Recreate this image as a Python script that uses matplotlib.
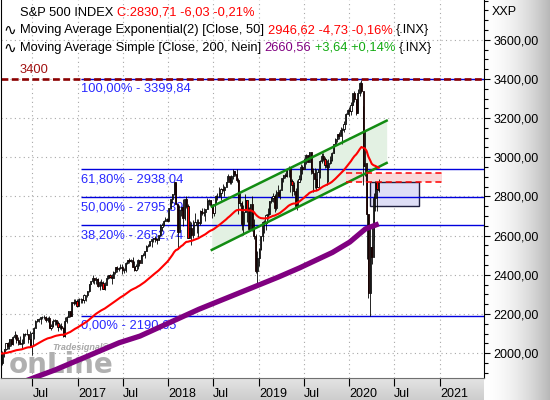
import numpy as np
import pandas as pd
import matplotlib
matplotlib.use('Agg')
import matplotlib.pyplot as plt
import matplotlib.colors as mcolors
import matplotlib.transforms as mtrans
from matplotlib.patches import Rectangle
from matplotlib.lines import Line2D
from matplotlib.ticker import MultipleLocator

# weekly S&P 500 bars (one bar per week, Feb 2016 - Apr 2020)
first_week = '2016-02-24'
first_open = 1917

close = [
    # 2016
    1948, 2000, 2022, 2050, 2036, 2073, 2048, 2081, 2092, 2065, 2057, 2047, 2052, 2099, 2099,
    2096, 2071, 2037, 2103, 2130, 2162, 2175, 2174, 2183, 2184, 2184, 2169, 2180, 2128, 2139,
    2165, 2168, 2154, 2133, 2141, 2126, 2085, 2164, 2182, 2213, 2192, 2260, 2258, 2264, 2239,
    # 2017
    2277, 2275, 2271, 2295, 2297, 2316, 2351, 2367, 2383, 2373, 2378, 2344, 2363, 2356, 2329,
    2349, 2384, 2399, 2391, 2382, 2416, 2439, 2432, 2433, 2438, 2423, 2425, 2459, 2473, 2472,
    2477, 2441, 2426, 2443, 2477, 2461, 2500, 2502, 2519, 2549, 2553, 2575, 2581, 2588, 2582,
    2579, 2602, 2642, 2652, 2676, 2683, 2674,
    # 2018
    2743, 2786, 2810, 2873, 2762, 2620, 2732, 2747, 2691, 2787, 2752, 2588, 2641, 2604, 2656,
    2670, 2670, 2663, 2728, 2713, 2721, 2735, 2779, 2780, 2755, 2718, 2760, 2801, 2802, 2819,
    2840, 2833, 2850, 2875, 2902, 2872, 2905, 2930, 2914, 2886, 2767, 2768, 2659, 2723, 2781,
    2736, 2633, 2760, 2633, 2600, 2417, 2486,
    # 2019
    2532, 2596, 2671, 2665, 2707, 2708, 2776, 2793, 2804, 2743, 2822, 2801, 2834, 2893, 2907,
    2905, 2940, 2946, 2881, 2860, 2826, 2752, 2873, 2887, 2950, 2942, 2990, 3014, 2977, 3026,
    2932, 2919, 2889, 2847, 2926, 2979, 3007, 2992, 2962, 2952, 2970, 2986, 3023, 3067, 3093,
    3120, 3110, 3141, 3146, 3169, 3221, 3240,
    # 2020
    3235, 3265, 3330, 3295, 3226, 3328, 3380, 3338, 2954, 2972, 2711, 2305, 2541, 2489, 2790,
    2875, 2837, 2831,
]

high = [
    1963, 2009, 2022, 2052, 2057, 2074, 2073, 2088, 2111, 2100, 2083, 2085, 2072, 2101, 2105,
    2121, 2096, 2113, 2109, 2132, 2169, 2176, 2177, 2183, 2188, 2194, 2188, 2185, 2188, 2151,
    2175, 2173, 2170, 2162, 2148, 2155, 2131, 2182, 2190, 2213, 2214, 2260, 2278, 2274, 2274,
    2282, 2279, 2277, 2301, 2298, 2319, 2351, 2368, 2401, 2385, 2390, 2386, 2370, 2378, 2366,
    2361, 2398, 2399, 2404, 2406, 2419, 2440, 2446, 2442, 2454, 2454, 2434, 2464, 2478, 2484,
    2480, 2491, 2468, 2455, 2480, 2475, 2500, 2509, 2519, 2553, 2558, 2575, 2583, 2588, 2597,
    2590, 2604, 2658, 2665, 2680, 2695, 2692,
    2743, 2788, 2810, 2873, 2871, 2763, 2754, 2748, 2789, 2787, 2802, 2762, 2675, 2672, 2680,
    2717, 2684, 2683, 2733, 2742, 2743, 2737, 2791, 2789, 2780, 2760, 2763, 2805, 2817, 2848,
    2842, 2863, 2853, 2876, 2917, 2900, 2908, 2941, 2931, 2940, 2895, 2817, 2779, 2757, 2815,
    2776, 2747, 2761, 2800, 2685, 2607, 2520,
    2538, 2598, 2675, 2682, 2709, 2739, 2776, 2796, 2817, 2812, 2831, 2860, 2836, 2893, 2911,
    2918, 2940, 2954, 2937, 2891, 2872, 2841, 2885, 2911, 2964, 2958, 2996, 3018, 3014, 3028,
    3029, 2944, 2943, 2939, 2940, 2986, 3021, 3022, 2999, 2984, 2993, 3008, 3027, 3067, 3098,
    3120, 3128, 3154, 3151, 3183, 3226, 3248,
    3258, 3283, 3330, 3338, 3286, 3348, 3385, 3394, 3260, 3137, 2883, 2711, 2637, 2641, 2819,
    2879, 2845, 2888,
]

low = [
    1891, 1937, 1980, 2014, 2022, 2022, 2034, 2040, 2074, 2052, 2039, 2046, 2026, 2047, 2085,
    2092, 2050, 2033, 1992, 2074, 2131, 2159, 2157, 2148, 2176, 2172, 2160, 2157, 2128, 2119,
    2133, 2145, 2143, 2115, 2124, 2119, 2084, 2084, 2156, 2182, 2187, 2192, 2248, 2252, 2234,
    2245, 2254, 2258, 2257, 2267, 2289, 2313, 2355, 2359, 2355, 2355, 2336, 2322, 2345, 2329,
    2322, 2374, 2380, 2382, 2354, 2383, 2406, 2416, 2419, 2428, 2406, 2408, 2414, 2456, 2460,
    2466, 2438, 2421, 2417, 2428, 2447, 2474, 2497, 2488, 2520, 2544, 2548, 2544, 2566, 2566,
    2557, 2579, 2600, 2625, 2651, 2676, 2674,
    2682, 2738, 2769, 2808, 2760, 2533, 2636, 2700, 2647, 2681, 2741, 2586, 2593, 2554, 2586,
    2660, 2613, 2595, 2655, 2707, 2701, 2677, 2737, 2755, 2748, 2692, 2699, 2770, 2782, 2795,
    2781, 2828, 2802, 2854, 2885, 2864, 2864, 2887, 2903, 2874, 2711, 2749, 2628, 2604, 2722,
    2671, 2631, 2650, 2622, 2583, 2409, 2347,
    2444, 2525, 2570, 2613, 2631, 2687, 2704, 2765, 2774, 2722, 2729, 2800, 2785, 2849, 2874,
    2892, 2899, 2901, 2825, 2801, 2805, 2751, 2729, 2875, 2883, 2913, 2952, 2966, 2975, 2978,
    2914, 2822, 2841, 2835, 2853, 2892, 2969, 2982, 2946, 2856, 2873, 2966, 2979, 3023, 3067,
    3077, 3091, 3114, 3070, 3130, 3183, 3223,
    3212, 3215, 3268, 3282, 3215, 3233, 3315, 3328, 2856, 2902, 2479, 2281, 2192, 2456, 2576,
    2727, 2727, 2825,
]

# EMA(50) on weekly closes, starting value read from the left edge
ema_start = 2000

# SMA(200)
sma_dates = ['2016-02-24', '2016-07-15', '2016-09-30', '2017-06-16', '2017-09-08', '2018-05-04',
             '2019-03-22', '2019-06-14', '2019-10-25', '2020-01-03', '2020-03-06', '2020-04-29']
sma_vals = [1810, 1878, 1914, 2053, 2087, 2224, 2389, 2435, 2514, 2567, 2634, 2660]

# Fibonacci retracement
fib_levels = [3399.84, 2938.04, 2795.39, 2652.74, 2190.65]
fib_labels = ['100,00% - 3399,84', '61,80% - 2938,04', '50,00% - 2795,39',
              '38,20% - 2652,74', '0,00% - 2190,65']
fib_start = '2017-01-12'

resistance = 3400

# trend channel
channel_dates = ['2018-06-25', '2020-05-31']
channel_upper = [2748, 3187]
channel_lower = [2527, 2971]

# zones
pink_dates = ['2019-12-17', '2021-01-08']
pink_range = [2875, 2918]
blue_dates = ['2020-03-25', '2020-10-09']
blue_range = [2751, 2872]

W, H = 550, 400
FS = 9
HFS = 9.3
plt.rcParams['font.family'] = ['Liberation Sans', 'DejaVu Sans']

fig = plt.figure(figsize=(5.5, 4), dpi=100)


def gradient(rect, c0, c1, horizontal, power=1.0):
    g = fig.add_axes(rect, zorder=0)
    t = np.linspace(0, 1, 256) ** power
    a, b = np.array(mcolors.to_rgb(c0)), np.array(mcolors.to_rgb(c1))
    img = a + (b - a) * t[:, None]
    img = img[None, :, :] if horizontal else img[:, None, :]
    g.imshow(img, aspect='auto', extent=(0, 1, 0, 1))
    g.axis('off')


# grey side panels
gradient([484 / W, 0, 66 / W, 1], '#ffffff', '#b8b8b8', True, power=1.8)
gradient([0, 0, 484 / W, 22 / H], '#e4e4e4', '#cdcdcd', False)

ax = fig.add_axes([1 / W, 22 / H, 483 / W, 378 / H], zorder=2)

dates = pd.date_range(first_week, periods=len(close), freq='7D')
c = np.array(close, dtype=float)
o = np.r_[first_open, c[:-1]]
hi = np.array(high, dtype=float)
lo = np.array(low, dtype=float)
up = c >= o

# background shapes
ax.fill_between(pd.to_datetime(channel_dates), channel_lower, channel_upper,
                color='#e3f1e3', lw=0, zorder=0.6)
pd0, pd1 = pd.to_datetime(pink_dates)
ax.fill_between([pd0, pd1], pink_range[0], pink_range[1], color='#fadada', lw=0, zorder=0.7)
bd0, bd1 = pd.to_datetime(blue_dates)
ax.add_patch(Rectangle((bd0, blue_range[0]), bd1 - bd0, blue_range[1] - blue_range[0],
                       facecolor='#dedef6', edgecolor='#202040', lw=1, zorder=0.8))

# watermark
ax.text(52 / W, 1 - 347 / H, 'Tradesignal®', transform=fig.transFigure, fontsize=6.5,
        color='#a8a8a8', weight='bold', style='italic', va='center', zorder=0.9)
ax.text(9 / W, 1 - 365 / H, 'onLine', transform=fig.transFigure, fontsize=20,
        color='#b0b0b0', weight='bold', va='center', zorder=0.9, family='DejaVu Sans')

# fibonacci lines
x_right = pd.Timestamp('2021-06-28')
fs0 = pd.Timestamp(fib_start)
for lev, lab in zip(fib_levels, fib_labels):
    ax.hlines(lev, fs0, x_right, color='#0000dd', lw=1.0, zorder=1.5)
    ax.annotate(lab, (fs0, lev), xytext=(0.5, -7.2), textcoords='offset points',
                color='#2828ff', fontsize=HFS, va='center', ha='left', zorder=1.6)

# resistance
ax.axhline(resistance, color='#8b0000', lw=1.9, dashes=(2.6, 1.3), zorder=1.7)
ax.annotate(str(resistance), (19 / 483, resistance), xycoords=('axes fraction', 'data'),
            xytext=(0, 6.5), textcoords='offset points', color='#a01010', fontsize=HFS,
            va='center', ha='left')

# candles
ax.vlines(dates, lo, hi, color='black', lw=0.6, zorder=2)
ax.bar(dates[up], (c - o)[up], bottom=o[up], width=4.5, color='white',
       edgecolor='black', lw=0.6, zorder=2.1)
ax.bar(dates[~up], (c - o)[~up], bottom=o[~up], width=4.5, color='red',
       edgecolor='black', lw=0.6, zorder=2.1)

# channel lines
ax.plot(pd.to_datetime(channel_dates), channel_upper, color='#128c12', lw=1.8, zorder=2.5)
ax.plot(pd.to_datetime(channel_dates), channel_lower, color='#128c12', lw=1.8, zorder=2.5)

# pink zone borders
ax.hlines(pink_range, pd0, pd1, color='red', lw=1.1, linestyles=(0, (4, 2.5)), zorder=2.6)

# moving averages
alpha = 2 / 51
ema = []
prev = ema_start
for v in c:
    prev = prev + alpha * (v - prev)
    ema.append(prev)
ax.plot(dates, ema, color='red', lw=1.5, zorder=3)
ax.plot(pd.to_datetime(sma_dates), sma_vals, color='#800080', lw=3.8, zorder=3,
        solid_capstyle='butt')

# axes
ax.set_xlim(pd.Timestamp('2016-02-25'), x_right)
ax.set_ylim(1873, 3803)

tick_dates = pd.date_range('2016-07-01', '2021-01-01', freq='6MS')
ax.set_xticks(tick_dates)
ax.set_xticklabels(['Jul' if d.month == 7 else str(d.year) for d in tick_dates],
                   ha='left', fontsize=FS)
shift = mtrans.ScaledTranslation(2 / 72, 0, fig.dpi_scale_trans)
for lab in ax.get_xticklabels():
    lab.set_transform(lab.get_transform() + shift)
ax.tick_params(axis='x', direction='out', length=6, pad=1, width=0.8)

ax.yaxis.tick_right()
yt = np.arange(2000, 3601, 200)
ax.set_yticks(yt)
ax.set_yticklabels([f'{v:.2f}'.replace('.', ',') for v in yt], fontsize=FS)
ax.yaxis.set_minor_locator(MultipleLocator(50))
ax.tick_params(axis='y', which='major', direction='out', length=4, pad=3, width=0.8)
ax.tick_params(axis='y', which='minor', direction='out', length=3, width=0.8)

ax.set_axisbelow(True)
ax.grid(True, which='major', color='#a8a8a8', linestyle=(0, (1, 3)), lw=0.8)
ax.spines['top'].set_visible(False)
ax.spines['left'].set_color('black')
ax.spines['right'].set_color('black')
ax.spines['bottom'].set_color('#707070')

# header text
renderer = fig.canvas.get_renderer()
probe1 = fig.text(0, 0, 'a a', fontsize=HFS)
probe2 = fig.text(0, 0, 'aa', fontsize=HFS)
space_w = probe1.get_window_extent(renderer).width - probe2.get_window_extent(renderer).width
probe1.remove()
probe2.remove()


def header_line(x, y, parts):
    for s, col in parts:
        t = fig.text(x / W, 1 - y / H, s, color=col, fontsize=HFS, ha='left', va='center', zorder=5)
        x += t.get_window_extent(renderer).width + space_w


header_line(20, 12.5, [('S&P 500 INDEX', 'black'), ('C:2830,71 -6,03 -0,21%', 'red')])
header_line(20, 30.5, [('Moving Average Exponential(2) [Close, 50]', 'black'),
                       ('2946,62 -4,73 -0,16%', 'red'), ('{.INX}', 'black')])
header_line(20, 48, [('Moving Average Simple [Close, 200, Nein]', 'black'),
                     ('2660,56', '#800080'), ('+3,64 +0,14%', '#11aa11'), ('{.INX}', 'black')])

# legend icons
fig.add_artist(Rectangle((8.5 / W, 1 - 16.5 / H), 6.5 / W, 9 / H, transform=fig.transFigure,
                         fill=False, edgecolor='black', lw=1))
fig.add_artist(Line2D([11.8 / W, 11.8 / W], [1 - 4 / H, 1 - 7.5 / H], transform=fig.transFigure,
                      color='black', lw=1))
fig.add_artist(Line2D([11.8 / W, 11.8 / W], [1 - 16.5 / H, 1 - 20 / H], transform=fig.transFigure,
                      color='black', lw=1))
for yy in (30.5, 48):
    fig.text(3 / W, 1 - yy / H, '∿', fontsize=11, family='DejaVu Sans', va='center', zorder=5)

fig.text(492 / W, 1 - 12 / H, 'XXP', fontsize=FS, va='center', zorder=5)

fig.savefig('out.png', dpi=100)
